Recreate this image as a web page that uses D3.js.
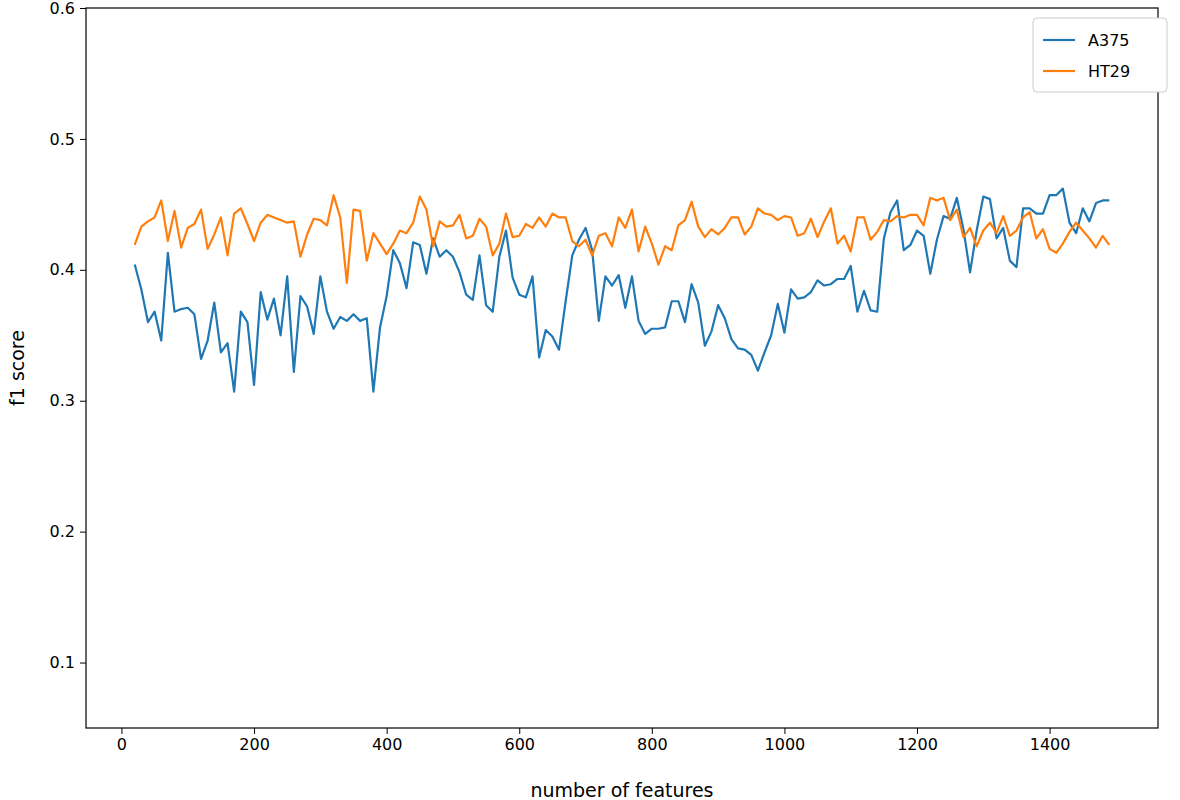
<!DOCTYPE html>
<html><head><meta charset="utf-8">
<script src="https://cdn.jsdelivr.net/npm/d3@7"></script>
<style>body{margin:0;background:#fff}svg{font-family:"DejaVu Sans",sans-serif}</style>
</head><body><svg id="c" width="1180" height="800"></svg>
<script>
const xStart = 20, xStep = 10;
const a375 = [.404,.385,.360,.368,.346,.413,.368,.370,.371,.366,
.332,.346,.375,.337,.344,.307,.368,.360,.312,.383,
.362,.378,.350,.395,.322,.380,.372,.351,.395,.368,
.355,.364,.361,.366,.361,.363,.307,.356,.380,.415,
.405,.386,.421,.419,.397,.424,.410,.415,.410,.398,
.381,.377,.411,.373,.368,.410,.430,.394,.381,.379,
.395,.333,.354,.349,.339,.376,.411,.423,.432,.415,
.361,.395,.388,.396,.371,.395,.361,.351,.355,.355,
.356,.376,.376,.360,.389,.375,.342,.353,.373,.363,
.347,.340,.339,.335,.323,.337,.350,.374,.352,.385,
.378,.379,.383,.392,.388,.389,.393,.393,.403,.368,
.384,.369,.368,.424,.444,.453,.415,.419,.430,.426,
.397,.423,.441,.439,.455,.431,.398,.430,.456,.454,
.424,.432,.407,.402,.447,.447,.443,.443,.457,.457,
.462,.436,.428,.447,.437,.451,.453,.453];
const ht29 = [.419,.433,.437,.440,.453,.422,.445,.417,.432,.435,
.446,.416,.427,.440,.411,.443,.447,.435,.422,.436,
.442,.440,.438,.436,.437,.410,.427,.439,.438,.434,
.457,.440,.390,.446,.445,.407,.428,.420,.412,.420,
.430,.428,.436,.456,.446,.418,.437,.433,.434,.442,
.424,.426,.439,.433,.411,.420,.443,.425,.426,.435,
.432,.440,.433,.443,.440,.440,.422,.418,.423,.411,
.426,.428,.418,.440,.432,.446,.414,.433,.420,.404,
.418,.415,.434,.438,.452,.433,.425,.431,.427,.432,
.440,.440,.427,.433,.447,.443,.442,.438,.441,.440,
.426,.428,.439,.425,.437,.447,.420,.426,.414,.440,
.440,.423,.429,.438,.437,.441,.440,.442,.442,.434,
.455,.453,.455,.438,.446,.425,.432,.418,.430,.436,
.428,.441,.426,.430,.440,.444,.424,.431,.416,.413,
.420,.429,.436,.430,.424,.417,.426,.419];
const xTicks = [0,200,400,600,800,1000,1200,1400];
const yTicks = [0.1,0.2,0.3,0.4,0.5,0.6];
const series = [{name:"A375",vals:a375,color:"#1f77b4"},{name:"HT29",vals:ht29,color:"#ff7f0e"}];

const L=86,R=1158,T=8,B=728;
const svg=d3.select("#c");
const x=d3.scaleLinear().domain([-53.5,1563.5]).range([L,R]);
const y=d3.scaleLinear().domain([0.05,0.6]).range([B,T]);
const line=d3.line().x((d,i)=>x(xStart+i*xStep)).y(d=>y(d));
series.forEach(s=>svg.append("path").attr("d",line(s.vals)).attr("fill","none")
  .attr("stroke",s.color).attr("stroke-width",2.2).attr("stroke-linejoin","round"));
const xa=svg.append("g").attr("transform",`translate(0,${B})`).call(d3.axisBottom(x).tickValues(xTicks).tickSize(6).tickPadding(5).tickFormat(d3.format("d")));
const ya=svg.append("g").attr("transform",`translate(${L},0)`).call(d3.axisLeft(y).tickValues(yTicks).tickSize(6).tickPadding(5).tickFormat(d3.format(".1f")));
[xa,ya].forEach(a=>{a.select(".domain").remove();a.selectAll("text").attr("font-size",16).attr("fill","#000").attr("font-family","DejaVu Sans");a.selectAll("line").attr("stroke","#000");});
svg.append("rect").attr("x",L).attr("y",T).attr("width",R-L).attr("height",B-T).attr("fill","none").attr("stroke","#000").attr("stroke-width",1.2);
svg.append("text").attr("x",(L+R)/2).attr("y",797).attr("text-anchor","middle").attr("font-size",19).text("number of features");
svg.append("text").attr("transform",`translate(24,${(T+B)/2}) rotate(-90)`).attr("text-anchor","middle").attr("font-size",19).text("f1 score");
const lg=svg.append("g").attr("transform","translate(1033,18)");
lg.append("rect").attr("width",134).attr("height",74).attr("rx",4).attr("fill","#fff").attr("stroke","#ccc");
series.forEach((s,i)=>{const yy=22+i*31;
  lg.append("line").attr("x1",10).attr("x2",42).attr("y1",yy).attr("y2",yy).attr("stroke",s.color).attr("stroke-width",2.2);
  lg.append("text").attr("x",55).attr("y",yy+6).attr("font-size",16).text(s.name);});
</script></body></html>
